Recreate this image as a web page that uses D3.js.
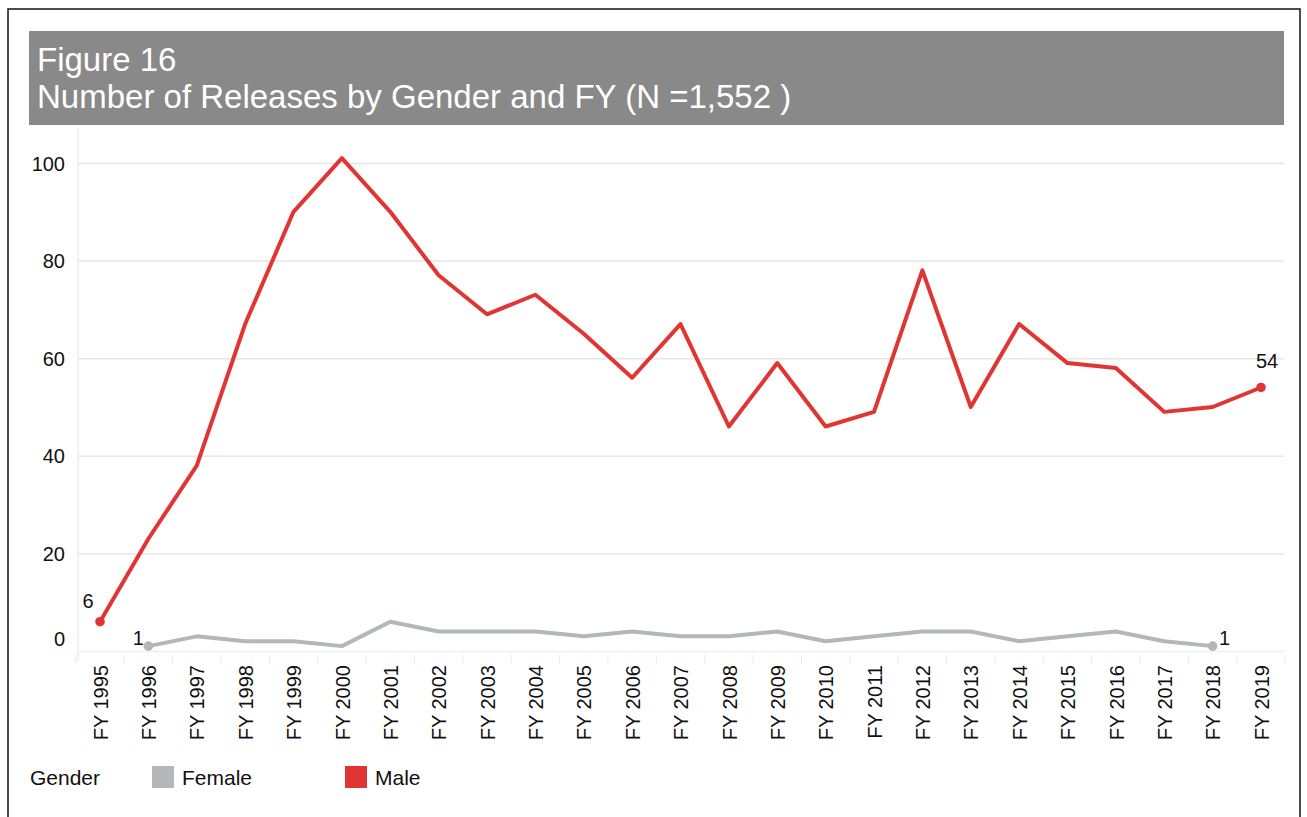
<!DOCTYPE html>
<html>
<head>
<meta charset="utf-8">
<script src="https://cdn.jsdelivr.net/npm/d3@7"></script>
<style>
  html, body { margin: 0; padding: 0; background: #fff; }
  svg { display: block; font-family: "Liberation Sans", Arial, Helvetica, sans-serif; }
</style>
</head>
<body>
<svg id="chart" width="1307" height="817"></svg>
<script>
const years = ["FY 1995","FY 1996","FY 1997","FY 1998","FY 1999","FY 2000","FY 2001","FY 2002","FY 2003","FY 2004","FY 2005","FY 2006","FY 2007","FY 2008","FY 2009","FY 2010","FY 2011","FY 2012","FY 2013","FY 2014","FY 2015","FY 2016","FY 2017","FY 2018","FY 2019"];
const maleValues = [6,23,38,67,90,101,90,77,69,73,65,56,67,46,59,46,49,78,50,67,59,58,49,50,54];
const femaleYears = ["FY 1996","FY 1997","FY 1998","FY 1999","FY 2000","FY 2001","FY 2002","FY 2003","FY 2004","FY 2005","FY 2006","FY 2007","FY 2008","FY 2009","FY 2010","FY 2011","FY 2012","FY 2013","FY 2014","FY 2015","FY 2016","FY 2017","FY 2018"];
const femaleValues = [1,3,2,2,1,6,4,4,4,3,4,3,3,4,2,3,4,4,2,3,4,2,1];
const yTicks = [0,20,40,60,80,100];
const titleLines = ["Figure 16","Number of Releases by Gender and FY (N =1,552 )"];
const legendTitle = "Gender";
const legendItems = ["Female","Male"];
const colors = {Female: "#b4b7b7", Male: "#e03532"};

const svg = d3.select("#chart");

// outer frame
svg.append("rect").attr("x",8).attr("y",9).attr("width",1292).attr("height",830)
  .attr("fill","none").attr("stroke","#111").attr("stroke-width",1.5);

// title banner
svg.append("rect").attr("x",29).attr("y",31).attr("width",1255).attr("height",94).attr("fill","#898989");
svg.append("g").selectAll("text").data(titleLines).join("text")
  .attr("x",37).attr("y",(d,i)=>71+i*37)
  .attr("fill","#fff").attr("font-size",33).text(d=>d);

const x = d3.scalePoint().domain(years).range([100,1261]);
const y = d3.scaleLinear().domain([0,100]).range([651,163]);
const left = 78, right = 1284;

// y axis with gridlines
const yAxis = svg.append("g").attr("transform",`translate(${left},0)`)
  .call(d3.axisLeft(y).tickValues(yTicks).tickSize(-(right-left)).tickPadding(13).tickFormat(d3.format("d")));
yAxis.select(".domain").remove();
yAxis.selectAll(".tick line").attr("stroke",d=>d===0?"#f0f0f0":"#e6e6e6").attr("stroke-width",1.5);
yAxis.selectAll(".tick text").attr("font-size",20).attr("fill","#111")
  .attr("dy",d=>d===0?"-0.3em":"0.35em");

// vertical axis line
svg.append("line").attr("x1",left).attr("x2",left).attr("y1",128).attr("y2",662)
  .attr("stroke","#eeeeee").attr("stroke-width",1.5);

// x axis
const step = x.step();
const xAxis = svg.append("g").attr("transform","translate(0,651)")
  .call(d3.axisBottom(x).tickSize(0).tickPadding(0));
xAxis.select(".domain").remove();
xAxis.selectAll(".tick text")
  .attr("transform","rotate(-90)")
  .attr("text-anchor","end").attr("x",-14).attr("y",0).attr("dy","0.36em")
  .attr("font-size",20).attr("fill","#111");
// separators between categories
svg.append("g").selectAll("line").data(years).join("line")
  .attr("x1",d=>x(d)-step/2).attr("x2",d=>x(d)-step/2)
  .attr("y1",655).attr("y2",663).attr("stroke","#e8e8e8").attr("stroke-width",1);
svg.append("line").attr("x1",x(years[years.length-1])+step/2).attr("x2",x(years[years.length-1])+step/2)
  .attr("y1",655).attr("y2",663).attr("stroke","#e8e8e8");

// lines
const male = years.map((d,i)=>({year:d, v:maleValues[i]}));
const female = femaleYears.map((d,i)=>({year:d, v:femaleValues[i]}));
const line = d3.line().x(d=>x(d.year)).y(d=>y(d.v));

svg.append("path").datum(female).attr("d",line).attr("fill","none")
  .attr("stroke",colors.Female).attr("stroke-width",4).attr("stroke-linejoin","round");
svg.append("path").datum(male).attr("d",line).attr("fill","none")
  .attr("stroke",colors.Male).attr("stroke-width",4).attr("stroke-linejoin","round");

// end points
const ends = [
  {d: male[0], c: colors.Male, dx:-12, dy:-14},
  {d: male[male.length-1], c: colors.Male, dx:6, dy:-19},
  {d: female[0], c: colors.Female, dx:-10, dy:-1},
  {d: female[female.length-1], c: colors.Female, dx:12, dy:-1}
];
svg.append("g").selectAll("circle").data(ends).join("circle")
  .attr("cx",e=>x(e.d.year)).attr("cy",e=>y(e.d.v)).attr("r",4.8).attr("fill",e=>e.c);
svg.append("g").selectAll("text").data(ends).join("text")
  .attr("x",e=>x(e.d.year)+e.dx).attr("y",e=>y(e.d.v)+e.dy)
  .attr("text-anchor","middle").attr("font-size",20).attr("fill","#111")
  .text(e=>e.d.v);

// legend
svg.append("text").attr("x",30).attr("y",785).attr("font-size",21).attr("fill","#111").text(legendTitle);
const lg = svg.append("g").selectAll("g").data(legendItems).join("g")
  .attr("transform",(d,i)=>`translate(${152+i*193},766)`);
lg.append("rect").attr("width",22).attr("height",22).attr("fill",d=>colors[d]);
lg.append("text").attr("x",30).attr("y",19).attr("font-size",21).attr("fill","#111").text(d=>d);
</script>
</body>
</html>
